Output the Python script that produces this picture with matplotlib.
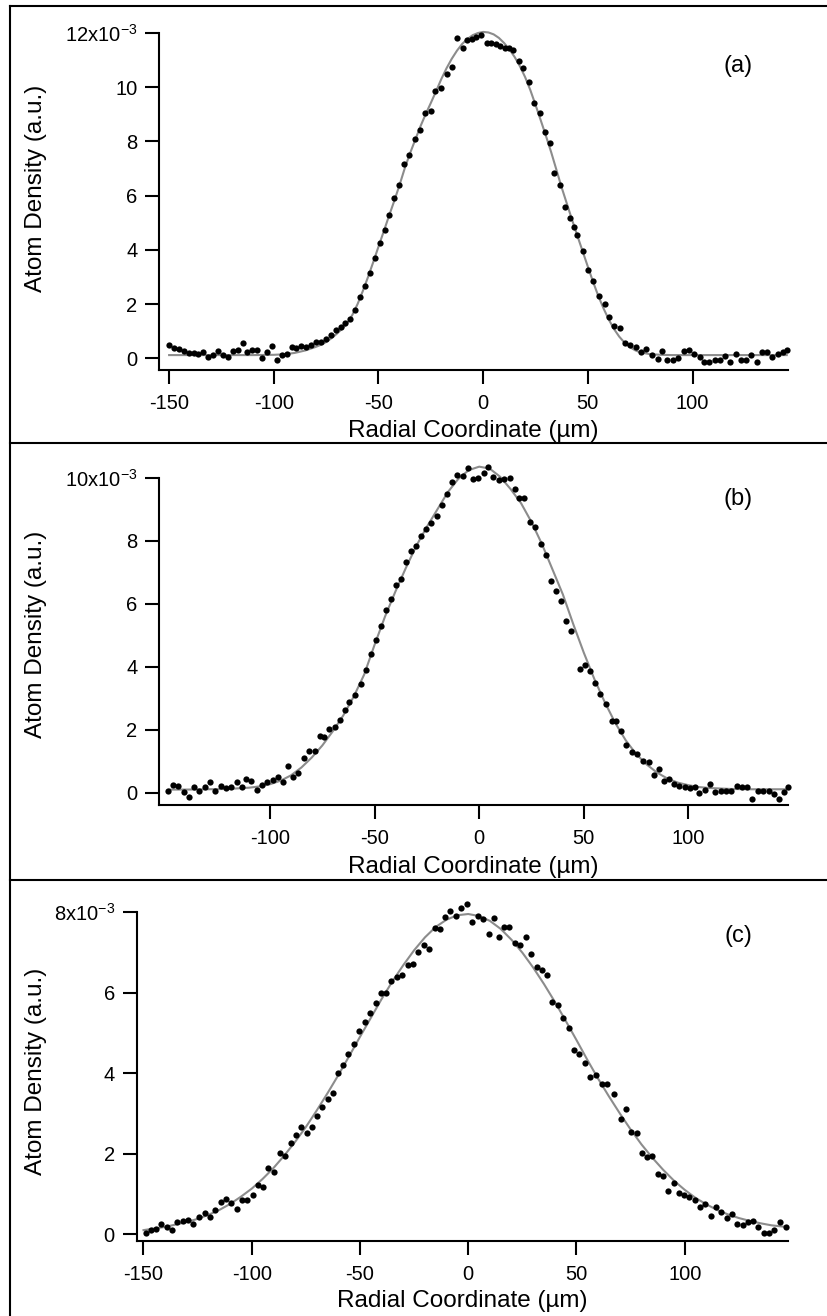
import matplotlib
matplotlib.use('Agg')
import matplotlib.pyplot as plt
from matplotlib.lines import Line2D
from matplotlib.ticker import FixedLocator, FuncFormatter

plt.rcParams['font.family'] = ['Liberation Sans', 'DejaVu Sans']
plt.rcParams['mathtext.fontset'] = 'custom'
plt.rcParams['mathtext.rm'] = 'Liberation Sans'
plt.rcParams['mathtext.default'] = 'regular'
plt.rcParams['axes.unicode_minus'] = False

W, H = 828, 1316

# ---- panel (a): measured profile (x in um, density in 1e-3 a.u.)
a_x = [-150.0, -147.7, -145.3, -143.0, -140.6, -138.3, -136.0, -133.6, -131.3, -128.9,
       -126.6, -124.3, -121.9, -119.6, -117.2, -114.9, -112.6, -110.2, -107.9, -105.5,
       -103.2, -100.9, -98.5, -96.2, -93.8, -91.5, -89.2, -86.8, -84.5, -82.1,
       -79.8, -77.5, -75.1, -72.8, -70.4, -68.1, -65.8, -63.4, -61.1, -58.7,
       -56.4, -54.1, -51.7, -49.4, -47.0, -44.8, -42.4, -40.0, -37.6, -35.2,
       -32.8, -30.1, -27.6, -24.9, -22.9, -20.1, -17.3, -15.1, -12.7, -9.8,
       -7.5, -5.4, -3.2, -0.8, 1.6, 3.7, 6.0, 8.1, 10.3, 12.3,
       14.3, 17.1, 19.2, 21.9, 24.3, 27.0, 29.4, 31.8, 34.0, 36.5,
       39.0, 41.4, 43.2, 45.0, 47.6, 50.1, 52.6, 55.1, 58.1, 60.2,
       62.7, 65.2, 67.8, 70.3, 73.0, 75.4, 77.9, 80.5, 83.3, 85.5,
       88.0, 90.6, 93.1, 95.7, 98.3, 100.9, 103.6, 105.6, 108.0, 110.6,
       113.0, 115.6, 118.0, 120.6, 123.0, 125.6, 128.0, 130.6, 133.0, 135.6,
       138.0, 140.6, 143.0, 145.0]
a_y = [0.48, 0.38, 0.35, 0.28, 0.20, 0.18, 0.15, 0.25, 0.06, 0.14,
       0.26, 0.12, 0.05, 0.28, 0.30, 0.55, 0.24, 0.32, 0.30, 0.02,
       0.22, 0.45, -0.05, 0.14, 0.17, 0.42, 0.38, 0.44, 0.42, 0.50,
       0.60, 0.62, 0.72, 0.85, 1.03, 1.15, 1.30, 1.44, 1.80, 2.26,
       2.67, 3.15, 3.70, 4.24, 4.75, 5.30, 5.90, 6.39, 7.16, 7.50,
       8.10, 8.42, 9.06, 9.13, 9.87, 9.96, 10.49, 10.76, 11.80, 11.44,
       11.74, 11.77, 11.84, 11.92, 11.62, 11.62, 11.60, 11.52, 11.46, 11.43,
       11.37, 10.97, 10.70, 10.18, 9.40, 9.04, 8.36, 7.95, 6.82, 6.39,
       5.59, 5.16, 4.85, 4.54, 3.95, 3.25, 2.84, 2.29, 2.02, 1.53,
       1.18, 1.13, 0.57, 0.48, 0.40, 0.23, 0.36, 0.11, -0.01, 0.27,
       -0.05, -0.06, 0.02, 0.26, 0.30, 0.17, 0.05, -0.13, -0.13, -0.06,
       -0.05, 0.07, -0.13, 0.17, -0.06, -0.06, 0.11, -0.13, 0.24, 0.24,
       0.05, 0.17, 0.24, 0.32]
a_fit_x = [-150, -130, -110, -100, -95, -90, -85, -80, -77.5, -75, -72.5, -70, -67.5, -65,
           -62.5, -60, -57.5, -55, -52.5, -50, -47.5, -45, -42.5, -40, -37.5, -35, -32.5,
           -30, -27.5, -25, -22.5, -20, -17.5, -15, -12.5, -10, -7.5, -5, -2.5, 0, 2.5,
           5, 7.5, 10, 12.5, 15, 17.5, 20, 22.5, 25, 27.5, 30, 32.5, 35, 37.5, 40, 42.5,
           45, 47.5, 50, 52.5, 55, 57.5, 60, 62.5, 65, 67.5, 70, 72.5, 75, 80, 85, 90,
           100, 120, 145]
a_fit_y = [0.12, 0.12, 0.12, 0.13, 0.15, 0.20, 0.29, 0.42, 0.50, 0.60, 0.74, 0.90, 1.08, 1.28,
           1.60, 2.00, 2.48, 3.00, 3.55, 4.12, 4.68, 5.25, 5.80, 6.38, 7.00, 7.55, 8.05,
           8.55, 9.00, 9.42, 9.85, 10.30, 10.70, 11.05, 11.35, 11.60, 11.78, 11.92, 12.00, 12.04, 12.02,
           11.95, 11.82, 11.63, 11.40, 11.12, 10.78, 10.38, 9.90, 9.35, 8.78, 8.20, 7.60, 6.95, 6.30, 5.70, 5.10,
           4.52, 3.95, 3.38, 2.82, 2.30, 1.84, 1.43, 1.08, 0.80, 0.58, 0.42, 0.30, 0.22, 0.15, 0.13, 0.12,
           0.12, 0.12, 0.12]

# ---- panel (b)
b_x = [-148.7, -146.4, -143.8, -141.3, -138.8, -136.2, -133.7, -131.1, -128.6, -126.1,
       -123.6, -121.0, -118.5, -115.9, -113.4, -111.6, -109.1, -106.3, -103.8, -101.2,
       -98.7, -96.4, -93.9, -91.4, -88.8, -86.8, -83.8, -81.2, -78.7, -76.2,
       -74.2, -71.6, -69.1, -66.5, -64.0, -62.0, -59.4, -56.4, -54.3, -51.8,
       -49.4, -47.0, -44.6, -42.2, -39.8, -37.4, -35.0, -32.6, -30.2, -27.7,
       -25.3, -22.9, -20.2, -17.8, -15.4, -13.0, -10.6, -7.9, -5.4, -3.0,
       -0.6, 2.1, 4.4, 6.8, 9.6, 12.0, 14.5, 16.9, 19.2, 21.6,
       24.4, 26.7, 29.5, 31.9, 34.3, 36.6, 39.0, 41.5, 43.9, 48.0,
       50.6, 53.1, 55.2, 57.7, 60.7, 63.3, 65.3, 67.8, 70.3, 72.9,
       75.4, 78.5, 81.0, 83.5, 86.1, 88.1, 90.6, 93.2, 95.7, 98.2,
       100.8, 103.3, 105.3, 107.9, 110.4, 112.9, 115.5, 118.0, 120.5, 123.1,
       125.6, 128.1, 130.6, 133.2, 135.8, 138.3, 140.8, 143.4, 145.9, 147.7]
b_y = [0.06, 0.25, 0.20, 0.01, -0.15, 0.17, 0.04, 0.17, 0.33, 0.04,
       0.20, 0.15, 0.17, 0.33, 0.19, 0.44, 0.38, 0.10, 0.25, 0.33,
       0.40, 0.49, 0.33, 0.86, 0.51, 0.62, 1.11, 1.34, 1.34, 1.81,
       1.78, 2.03, 2.10, 2.31, 2.63, 2.88, 3.12, 3.46, 3.91, 4.42,
       4.85, 5.29, 5.80, 6.14, 6.59, 6.80, 7.33, 7.69, 7.83, 8.15,
       8.38, 8.58, 8.79, 9.14, 9.49, 9.88, 10.10, 10.06, 10.33, 9.96,
       10.01, 10.15, 10.36, 10.02, 9.94, 9.96, 9.99, 9.64, 9.35, 9.35,
       8.61, 8.45, 7.90, 7.55, 6.72, 6.40, 6.08, 5.46, 5.14, 3.94,
       4.07, 3.86, 3.48, 3.14, 2.82, 2.29, 2.29, 1.95, 1.53, 1.28,
       1.23, 1.00, 0.97, 0.57, 0.75, 0.36, 0.43, 0.29, 0.22, 0.17,
       0.14, 0.17, -0.02, 0.09, 0.27, 0.01, 0.06, 0.06, 0.06, 0.20,
       0.17, 0.17, -0.20, 0.06, 0.04, 0.04, -0.05, -0.20, 0.01, 0.17]
b_fit_x = [-148, -140, -130, -120, -110, -105, -100, -95, -90, -85, -80, -75, -70, -65, -60,
           -55, -50, -45, -40, -35, -30, -25, -20, -15, -10, -5, 0, 5, 10, 15, 20, 25, 30,
           35, 40, 45, 50, 55, 60, 65, 70, 75, 80, 85, 90, 95, 100, 105, 110, 120, 130, 148]
b_fit_y = [0.10, 0.10, 0.11, 0.12, 0.16, 0.20, 0.27, 0.38, 0.55, 0.80, 1.12, 1.50, 1.95, 2.45, 3.05,
           3.75, 4.70, 5.60, 6.40, 7.15, 7.85, 8.45, 9.00, 9.55, 9.97, 10.25, 10.36, 10.30, 10.04, 9.65, 9.20, 8.60, 7.90,
           7.10, 6.30, 5.35, 4.45, 3.62, 2.88, 2.22, 1.67, 1.23, 0.90, 0.64, 0.45, 0.32, 0.24, 0.18, 0.15, 0.12, 0.11, 0.11]

# ---- panel (c)
c_x = [-149.0, -146.5, -144.1, -141.7, -139.2, -136.8, -134.3, -131.9, -129.5, -127.0,
       -124.5, -121.6, -119.2, -116.8, -114.3, -111.8, -109.4, -106.9, -104.5, -102.1,
       -99.6, -97.2, -94.7, -92.3, -89.9, -86.9, -84.5, -82.0, -79.6, -77.1,
       -74.7, -72.3, -69.8, -67.4, -64.9, -62.5, -60.2, -58.0, -55.4, -52.8,
       -50.5, -47.9, -45.6, -42.8, -40.2, -37.9, -35.5, -32.8, -30.5, -28.0,
       -25.5, -23.0, -20.6, -18.0, -15.5, -13.2, -10.6, -8.3, -5.7, -3.2,
       -0.6, 1.7, 4.3, 6.8, 9.4, 11.7, 14.3, 16.7, 19.0, 21.6,
       23.9, 26.6, 29.0, 31.6, 33.9, 36.5, 38.8, 41.3, 43.9, 46.5,
       48.8, 51.2, 53.9, 56.2, 58.8, 61.9, 64.3, 67.5, 70.4, 72.9,
       75.3, 77.8, 80.2, 82.7, 85.1, 87.6, 90.0, 92.4, 94.9, 97.3,
       99.8, 102.2, 104.7, 107.1, 109.5, 112.0, 114.5, 116.9, 119.3, 121.8,
       124.2, 126.7, 129.1, 131.5, 134.0, 136.4, 138.9, 141.3, 144.2, 146.7]
c_y = [0.03, 0.11, 0.14, 0.25, 0.18, 0.11, 0.31, 0.33, 0.35, 0.25,
       0.43, 0.52, 0.43, 0.61, 0.80, 0.88, 0.77, 0.63, 0.84, 0.86,
       0.97, 1.22, 1.16, 1.64, 1.55, 2.02, 1.94, 2.27, 2.46, 2.65,
       2.50, 2.67, 2.93, 3.15, 3.35, 3.51, 4.00, 4.20, 4.48, 4.71,
       5.05, 5.28, 5.50, 5.75, 5.99, 5.99, 6.29, 6.39, 6.43, 6.68,
       6.70, 7.00, 7.17, 7.09, 7.61, 7.58, 7.88, 8.02, 7.91, 8.09,
       8.19, 7.76, 7.91, 7.82, 7.45, 7.86, 7.39, 7.62, 7.62, 7.22,
       7.18, 7.39, 6.95, 6.64, 6.56, 6.43, 5.77, 5.70, 5.38, 5.13,
       4.58, 4.48, 4.24, 3.91, 3.95, 3.74, 3.74, 3.48, 2.87, 3.12,
       2.54, 2.50, 2.02, 1.91, 1.94, 1.50, 1.44, 1.08, 1.27, 1.01,
       0.97, 0.93, 0.85, 0.68, 0.76, 0.45, 0.68, 0.55, 0.39, 0.50,
       0.25, 0.22, 0.31, 0.33, 0.17, 0.03, 0.02, 0.10, 0.31, 0.18]
c_fit_x = [-150, -145, -140, -135, -130, -125, -120, -115, -110, -105, -100, -95, -90, -85,
           -80, -75, -70, -65, -60, -55, -50, -45, -40, -35, -30, -25, -20, -15, -10, -5,
           0, 5, 10, 15, 20, 25, 30, 35, 40, 45, 50, 55, 60, 65, 70, 75, 80, 85, 90, 95,
           100, 105, 110, 115, 120, 125, 130, 135, 140, 145, 147.5]
c_fit_y = [0.10, 0.14, 0.18, 0.24, 0.30, 0.38, 0.48, 0.60, 0.75, 0.93, 1.13, 1.37, 1.64, 1.95,
           2.29, 2.66, 3.07, 3.50, 3.95, 4.42, 4.90, 5.37, 5.84, 6.28, 6.68, 7.05, 7.37, 7.63, 7.81, 7.92,
           7.95, 7.90, 7.78, 7.58, 7.31, 6.99, 6.62, 6.21, 5.77, 5.30, 4.82, 4.33, 3.86, 3.42, 3.00, 2.60,
           2.23, 1.90, 1.60, 1.33, 1.10, 0.90, 0.74, 0.60, 0.49, 0.40, 0.33, 0.27, 0.22, 0.19, 0.18]

panels = [
    # box in pixels: left, top, right, bottom
    dict(x=a_x, y=a_y, fx=a_fit_x, fy=a_fit_y, tag='(a)', box=(159.5, 33, 788, 370),
         xlim=(-154.6, 145.6), ylim=(-0.43, 12), xticks=[-150, -100, -50, 0, 50, 100],
         yticks=[0, 2, 4, 6, 8, 10, 12], tag_y=66, ylab_y=188, xlab_y=437),
    dict(x=b_x, y=b_y, fx=b_fit_x, fy=b_fit_y, tag='(b)', box=(159.5, 478, 788, 805),
         xlim=(-152.8, 147.6), ylim=(-0.39, 10), xticks=[-100, -50, 0, 50, 100],
         yticks=[0, 2, 4, 6, 8, 10], tag_y=499, ylab_y=634, xlab_y=873),
    dict(x=c_x, y=c_y, fx=c_fit_x, fy=c_fit_y, tag='(c)', box=(137, 912, 788, 1241),
         xlim=(-153.0, 147.7), ylim=(-0.17, 8), xticks=[-150, -100, -50, 0, 50, 100],
         yticks=[0, 2, 4, 6, 8], tag_y=936, ylab_y=1071, xlab_y=1307),
]


def top_label(top):
    def f(v, pos):
        if abs(v - top) < 1e-9:
            return '%dx10$^{-3}$' % round(v)
        return '%d' % round(v)
    return FuncFormatter(f)


fig = plt.figure(figsize=(W / 100, H / 100), dpi=100)

for p in panels:
    l, t, r, b = p['box']
    ax = fig.add_axes([l / W, 1 - b / H, (r - l) / W, (b - t) / H])
    # points and fit run past the top of the axis like in the original, so no clipping
    ax.plot(p['fx'], p['fy'], color='#8c8c8c', lw=1.5, zorder=2, clip_on=False)
    ax.plot(p['x'], p['y'], 'o', color='black', ms=4.5, mew=0, zorder=3, clip_on=False)
    ax.set_xlim(*p['xlim'])
    ax.set_ylim(*p['ylim'])
    ax.xaxis.set_major_locator(FixedLocator(p['xticks']))
    ax.yaxis.set_major_locator(FixedLocator(p['yticks']))
    ax.yaxis.set_major_formatter(top_label(p['yticks'][-1]))
    for side in ('top', 'right'):
        ax.spines[side].set_visible(False)
    for side in ('left', 'bottom'):
        ax.spines[side].set_linewidth(1.5)
    ax.tick_params(axis='both', direction='out', length=10, width=1.5,
                   labelsize=14.5, colors='black')
    ax.tick_params(axis='y', pad=6)
    ax.tick_params(axis='x', pad=7)
    ax.patch.set_alpha(0)

    fig.text((l + r) / 2 / W, 1 - p['xlab_y'] / H, 'Radial Coordinate (\u00b5m)',
             ha='center', va='baseline', fontsize=17.5)
    fig.text(36 / W, 1 - p['ylab_y'] / H, 'Atom Density (a.u.)', rotation=90,
             ha='center', va='center', fontsize=17.5)
    fig.text(738 / W, 1 - p['tag_y'] / H, p['tag'], ha='center', va='center', fontsize=17)

# frame lines around the panels
lines = [([10, 10], [6, H]), ([10, W], [6, 6]), ([10, W], [443, 443]), ([10, W], [880, 880])]
for xs, ys in lines:
    fig.add_artist(Line2D([v / W for v in xs], [1 - v / H for v in ys],
                          transform=fig.transFigure, color='black', lw=1.5))

fig.savefig('out.png', dpi=100)
